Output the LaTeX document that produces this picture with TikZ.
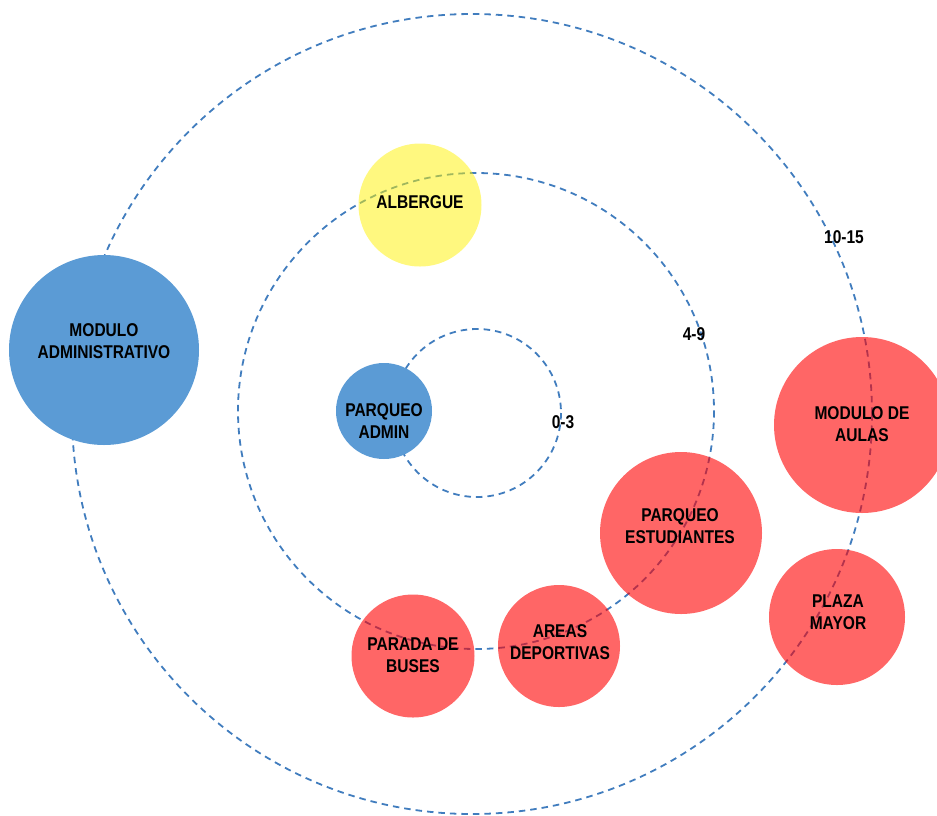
\documentclass[tikz,border=0pt]{standalone}
\usepackage{fontspec}
\newfontfamily\lblfont[FakeStretch=0.84]{Liberation Sans}
\definecolor{ringblue}{RGB}{65,125,190}
\definecolor{nodeblue}{RGB}{91,155,213}
\tikzset{
  ring/.style={draw=ringblue, line width=1.8pt, dash pattern=on 6.5pt off 5pt},
  bubble/.style={circle, inner sep=0pt, draw=none},
  bluebubble/.style={bubble, fill=nodeblue},
  redbubble/.style={bubble, fill=red, fill opacity=0.6},
  yellowbubble/.style={bubble, fill=yellow, fill opacity=0.5},
  lbl/.style={text=black, align=center, inner sep=0pt, font=\lblfont\bfseries\fontsize{18.5}{22.5}\selectfont},
}
\begin{document}
\begin{tikzpicture}[x=1pt, y=-1pt]
\useasboundingbox (0,0) rectangle (937,815);
\clip (0,0) rectangle (937,815);
% rings
\coordinate (c0) at (477,413);
\coordinate (c1) at (476,411);
\coordinate (c2) at (472,414);
\draw[ring] (c0) circle[radius=84];
\draw[ring] (c1) circle[radius=238];
\draw[ring] (c2) circle[radius=400];
% bubbles
\node[bluebubble, minimum size=190pt] (adm) at (104,350) {};
\node[yellowbubble, minimum size=123pt] (alb) at (420,205) {};
\node[bluebubble, minimum size=96pt] (padm) at (384,411) {};
\node[redbubble, minimum size=176pt] (aulas) at (862,425) {};
\node[redbubble, minimum size=162pt] (pest) at (681,533) {};
\node[redbubble, minimum size=136pt] (plaza) at (837,617) {};
\node[redbubble, minimum size=122pt] (areas) at (559,646) {};
\node[redbubble, minimum size=123pt] (buses) at (413,656) {};
% labels
\node[lbl] (tadm) at (104,341) {MODULO\\ADMINISTRATIVO};
\node[lbl] (talb) at (420,202) {ALBERGUE};
\node[lbl] (tpadm) at (384,421) {PARQUEO\\ADMIN};
\node[lbl] (taulas) at (862,424) {MODULO DE\\AULAS};
\node[lbl] (tpest) at (680,526) {PARQUEO\\ESTUDIANTES};
\node[lbl] (tplaza) at (838,612) {PLAZA\\MAYOR};
\node[lbl] (tareas) at (560,642) {AREAS\\DEPORTIVAS};
\node[lbl] (tbuses) at (413,655) {PARADA DE\\BUSES};
\node[lbl] (r0) at (563,422) {0-3};
\node[lbl] (r1) at (694,334) {4-9};
\node[lbl] (r2) at (844,237) {10-15};
\end{tikzpicture}
\end{document}
